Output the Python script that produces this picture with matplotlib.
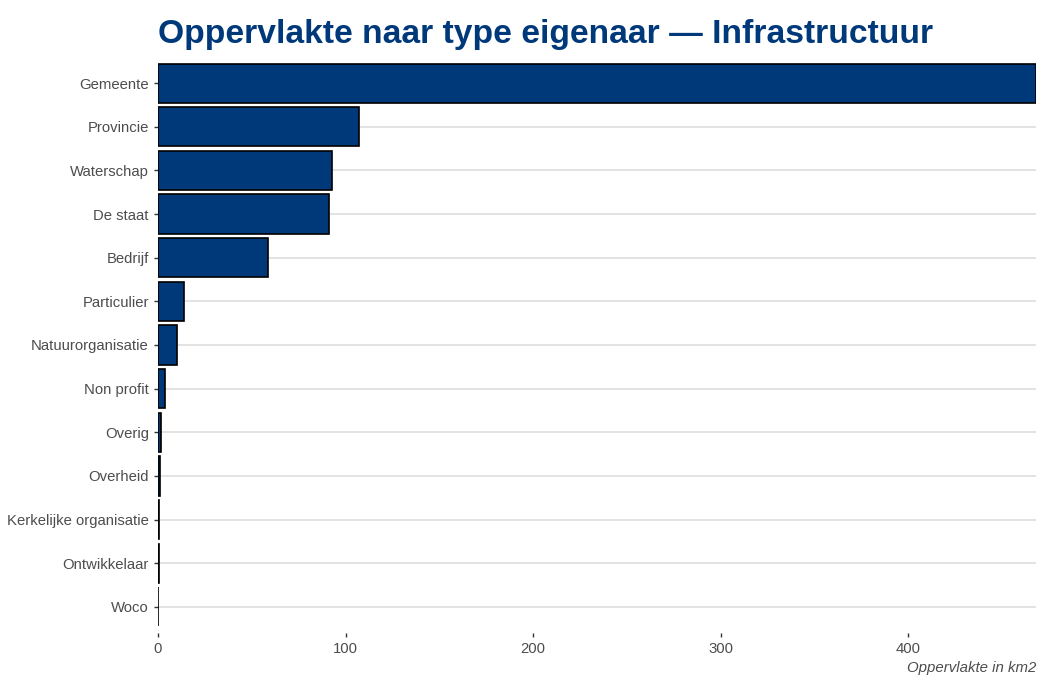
import matplotlib.pyplot as plt

# data (km2)
eigenaren = ["Gemeente", "Provincie", "Waterschap", "De staat", "Bedrijf", "Particulier",
             "Natuurorganisatie", "Non profit", "Overig", "Overheid",
             "Kerkelijke organisatie", "Ontwikkelaar", "Woco"]
oppervlakte = [468, 107, 92.7, 91, 58.6, 13.9, 10, 3.7, 1.6, 1.0, 0.6, 0.3, 0.2]

blauw = "#00397a"
grijs = "#4d4d4d"

plt.rcParams['font.family'] = ['Liberation Sans', 'DejaVu Sans']

fig = plt.figure(figsize=(10.38, 6.75), dpi=100)
ax = fig.add_axes([0.1522, 0.0622, 0.8458, 0.8534])

ypos = list(range(len(eigenaren)))
ax.barh(ypos, oppervlakte, height=0.9, color=blauw, edgecolor="black", linewidth=1.2, zorder=3)
ax.set_yticks(ypos)
ax.set_yticklabels(eigenaren)
ax.set_ylim(len(eigenaren) - 0.4, -0.6)
ax.set_xlim(0, max(oppervlakte))
ax.set_xticks([0, 100, 200, 300, 400])

ax.grid(axis="y", color="#dedede", linewidth=1.2, zorder=0)
ax.grid(axis="x", visible=False)
for s in ax.spines.values():
    s.set_visible(False)
ax.tick_params(axis="both", colors="#333333", labelcolor=grijs, labelsize=10.7, length=3, width=1)

fig.text(0.1522, 0.937, "Oppervlakte naar type eigenaar \u2014 Infrastructuur",
         fontsize=24.2, fontweight="bold", color=blauw, ha="left", va="baseline")
fig.text(0.998, 0.0, "Oppervlakte in km2", fontsize=10.8, style="italic",
         color=grijs, ha="right", va="bottom")

fig.savefig("out.png", dpi=100)
